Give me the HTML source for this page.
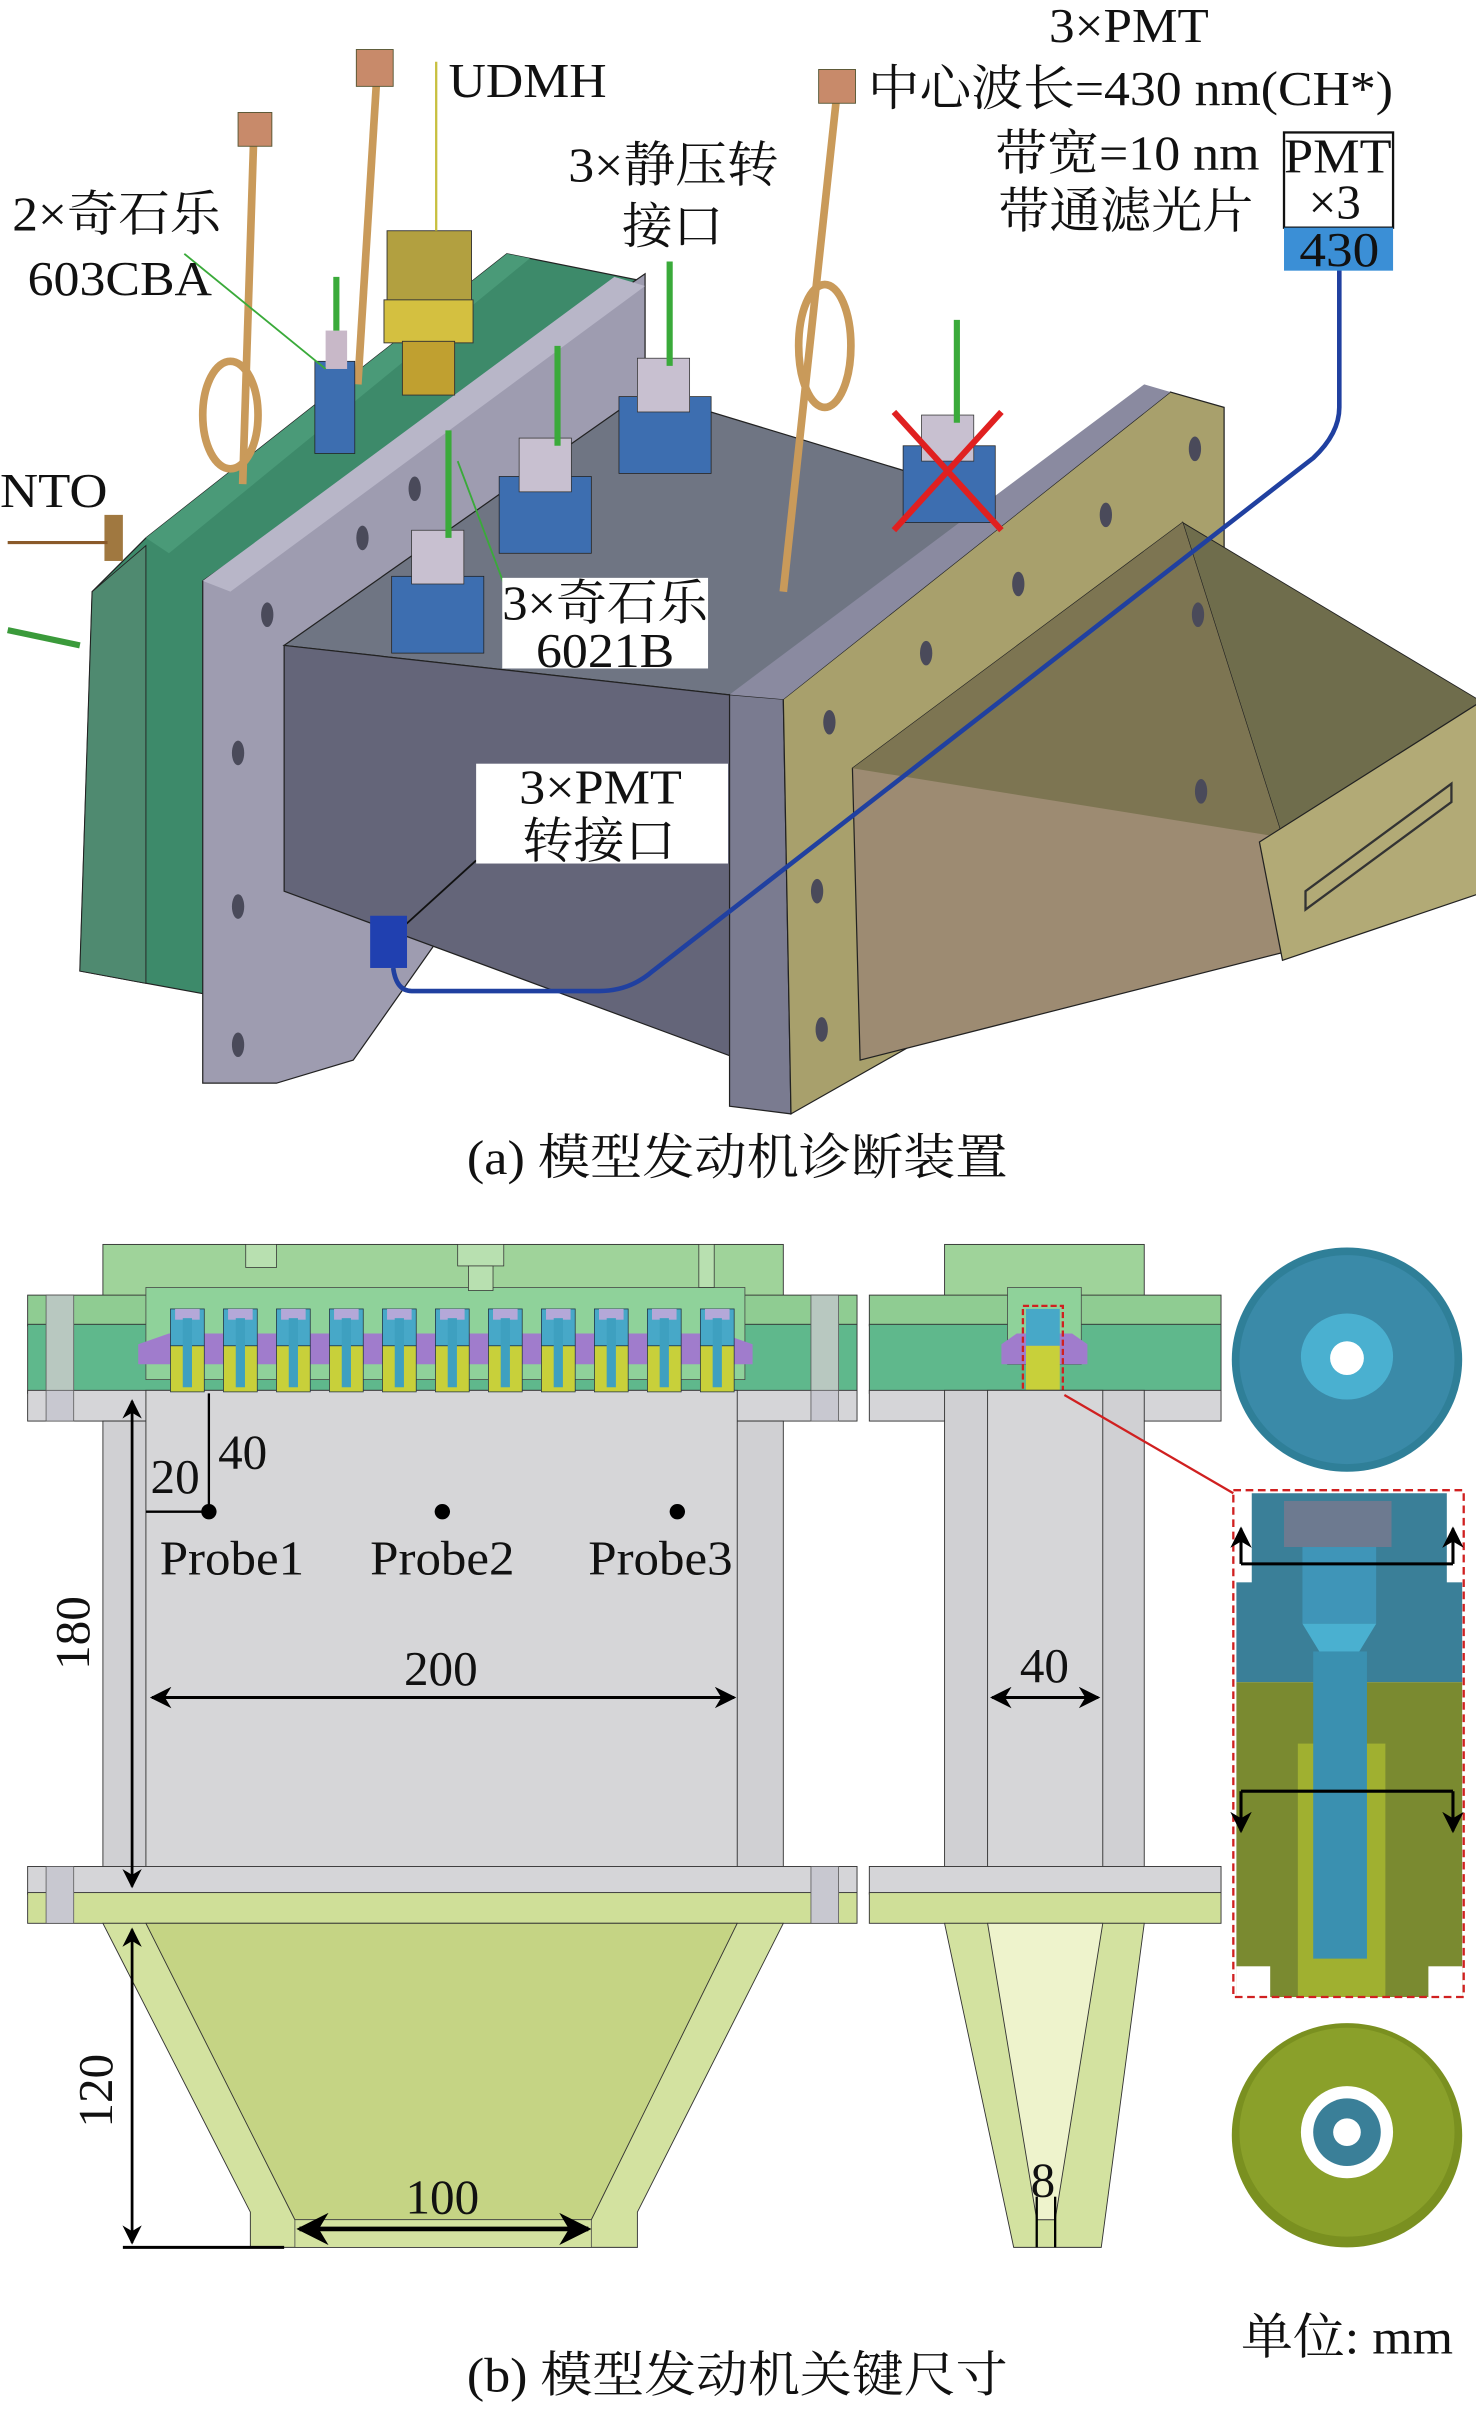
<!DOCTYPE html>
<html><head><meta charset="utf-8"><style>
html,body{margin:0;padding:0;background:#fff;}
svg{display:block;}
text{font-family:"Liberation Serif","Noto Serif CJK SC",serif;fill:#111;}
</style></head><body>
<svg width="1476" height="2409" viewBox="0 0 961 1568" xmlns="http://www.w3.org/2000/svg">
<defs>
<marker id="ah" viewBox="0 0 10 10" refX="9" refY="5" markerWidth="7" markerHeight="7" orient="auto-start-reverse"><path d="M0,0 L10,5 L0,10 L3,5 z" fill="#000"/></marker>
</defs>

<!-- ======== (a) 3D view ======== -->
<polygon points="52,632 60,385 95,350 330,165 415,182 150,372 150,650" fill="#3d8a6a" stroke="#222" stroke-width="0.8"/>
<polygon points="95,350 330,165 345,168 110,360" fill="#4a9a78"/>
<polygon points="52,632 60,385 95,355 95,640" fill="#4f8a70" stroke="#222" stroke-width="0.6"/>
<polygon points="132,705 132,378 420,178 420,420 230,690 180,705" fill="#9e9cb0" stroke="#222" stroke-width="0.8"/>
<polygon points="132,378 400,180 420,186 150,385" fill="#b8b6c8"/>
<polygon points="185,420 420,255 700,340 500,455" fill="#6f7583" stroke="#222" stroke-width="0.8"/>
<polygon points="185,420 500,455 510,700 185,580" fill="#646579" stroke="#222" stroke-width="0.8"/>
<polygon points="475,452 510,455 515,725 475,720" fill="#7a7b90" stroke="#222" stroke-width="0.8"/>
<polygon points="510,455 762,255 797,265 797,565 515,725" fill="#a8a06c" stroke="#222" stroke-width="0.8"/>
<polygon points="475,452 745,250 762,255 510,455" fill="#8a8aa0"/>
<polygon points="770,340 962,455 962,460 835,545" fill="#6f6d4c" stroke="#222" stroke-width="0.6"/>
<polygon points="555,500 770,340 835,545 835,620 560,690" fill="#9d8b72" stroke="#222" stroke-width="0.8"/>
<polygon points="555,500 770,340 835,545" fill="#7d7552"/>
<polygon points="820,548 962,458 962,582 835,625" fill="#b2aa76" stroke="#222" stroke-width="0.8"/>
<polygon points="850,580 945,510 945,522 850,592" fill="none" stroke="#333" stroke-width="1.5"/>
<g fill="#4a4a5a">
<ellipse cx="236" cy="350" rx="4" ry="8"/><ellipse cx="270" cy="318" rx="4" ry="8"/><ellipse cx="174" cy="400" rx="4" ry="8"/><ellipse cx="155" cy="490" rx="4" ry="8"/><ellipse cx="155" cy="590" rx="4" ry="8"/><ellipse cx="155" cy="680" rx="4" ry="8"/>
<ellipse cx="603" cy="425" rx="4" ry="8"/><ellipse cx="663" cy="380" rx="4" ry="8"/><ellipse cx="720" cy="335" rx="4" ry="8"/><ellipse cx="778" cy="292" rx="4" ry="8"/><ellipse cx="540" cy="470" rx="4" ry="8"/><ellipse cx="532" cy="580" rx="4" ry="8"/><ellipse cx="535" cy="670" rx="4" ry="8"/><ellipse cx="780" cy="400" rx="4" ry="8"/><ellipse cx="782" cy="515" rx="4" ry="8"/>
</g>
<rect x="68" y="335" width="12" height="30" fill="#a07840"/>
<line x1="5" y1="353" x2="70" y2="353" stroke="#8a5a2a" stroke-width="2"/>
<line x1="5" y1="410" x2="52" y2="420" stroke="#3a9a3a" stroke-width="4"/>
<g stroke="#c99a5a" stroke-width="5" fill="none">
<line x1="165" y1="95" x2="158" y2="315"/>
<line x1="245" y1="55" x2="233" y2="250"/>
<line x1="545" y1="60" x2="510" y2="385"/>
<ellipse cx="150" cy="270" rx="18" ry="35"/>
<ellipse cx="537" cy="225" rx="17" ry="40"/>
</g>
<g fill="#c88a6a" stroke="#553" stroke-width="0.6">
<rect x="155" y="73" width="22" height="22"/><rect x="232" y="32" width="24" height="24"/><rect x="533" y="45" width="24" height="22"/>
</g>
<rect x="252" y="150" width="55" height="50" fill="#b2a040" stroke="#333" stroke-width="0.6"/>
<rect x="250" y="195" width="58" height="28" fill="#d4c040" stroke="#333" stroke-width="0.6"/>
<rect x="262" y="222" width="34" height="35" fill="#c0a030" stroke="#333" stroke-width="0.6"/>
<line x1="284" y1="40" x2="284" y2="150" stroke="#c8c040" stroke-width="1.5"/>
<g>
<rect x="205" y="235" width="26" height="60" fill="#3d6eb0" stroke="#222" stroke-width="0.5"/>
<rect x="212" y="215" width="14" height="25" fill="#c8b8c8"/>
<line x1="219" y1="180" x2="219" y2="215" stroke="#3aaa3a" stroke-width="4"/>
<rect x="255" y="375" width="60" height="50" fill="#3d6eb0" stroke="#222" stroke-width="0.5"/>
<rect x="268" y="345" width="34" height="35" fill="#c8c0d0" stroke="#333" stroke-width="0.5"/>
<line x1="292" y1="280" x2="292" y2="350" stroke="#3aaa3a" stroke-width="4"/>
<rect x="325" y="310" width="60" height="50" fill="#3d6eb0" stroke="#222" stroke-width="0.5"/>
<rect x="338" y="285" width="34" height="35" fill="#c8c0d0" stroke="#333" stroke-width="0.5"/>
<line x1="363" y1="225" x2="363" y2="290" stroke="#3aaa3a" stroke-width="4"/>
<rect x="403" y="258" width="60" height="50" fill="#3d6eb0" stroke="#222" stroke-width="0.5"/>
<rect x="415" y="233" width="34" height="35" fill="#c8c0d0" stroke="#333" stroke-width="0.5"/>
<line x1="436" y1="170" x2="436" y2="238" stroke="#3aaa3a" stroke-width="4"/>
<rect x="588" y="290" width="60" height="50" fill="#3d6eb0" stroke="#222" stroke-width="0.5"/>
<rect x="600" y="270" width="34" height="30" fill="#c8c0d0" stroke="#333" stroke-width="0.5"/>
<line x1="623" y1="208" x2="623" y2="275" stroke="#3aaa3a" stroke-width="4"/>
</g>
<line x1="582" y1="268" x2="652" y2="345" stroke="#e02020" stroke-width="4"/>
<line x1="652" y1="268" x2="582" y2="345" stroke="#e02020" stroke-width="4"/>
<line x1="120" y1="165" x2="212" y2="240" stroke="#3aaa3a" stroke-width="1.2"/>
<line x1="298" y1="300" x2="330" y2="385" stroke="#3aaa3a" stroke-width="1.2"/>
<line x1="310" y1="560" x2="255" y2="610" stroke="#111" stroke-width="1.2"/>
<path d="M872,175 L872,265 Q872,282 855,298 L425,632 Q410,645 390,645 L268,645 Q258,645 256,630" fill="none" stroke="#2040a0" stroke-width="3"/>
<rect x="241" y="596" width="24" height="34" fill="#2040b0"/>
<rect x="327" y="376" width="134" height="59" fill="#fff"/>
<rect x="310" y="497" width="164" height="65" fill="#fff"/>
<rect x="836" y="86" width="71" height="62" fill="#fff" stroke="#111" stroke-width="1.5"/>
<rect x="836" y="148" width="71" height="28" fill="#3b8fd6"/>
<g font-size="32">
<text x="292" y="63" textLength="103" lengthAdjust="spacingAndGlyphs">UDMH</text>
<text x="8" y="150" textLength="136" lengthAdjust="spacingAndGlyphs">2×奇石乐</text>
<text x="18" y="192" textLength="120" lengthAdjust="spacingAndGlyphs">603CBA</text>
<text x="0" y="330" textLength="70" lengthAdjust="spacingAndGlyphs">NTO</text>
<text x="370" y="118" textLength="137" lengthAdjust="spacingAndGlyphs">3×静压转</text>
<text x="405" y="158" textLength="66" lengthAdjust="spacingAndGlyphs">接口</text>
<text x="683" y="27" textLength="104" lengthAdjust="spacingAndGlyphs">3×PMT</text>
<text x="565" y="68" textLength="342" lengthAdjust="spacingAndGlyphs">中心波长=430 nm(CH*)</text>
<text x="648" y="110" textLength="172" lengthAdjust="spacingAndGlyphs">带宽=10 nm</text>
<text x="650" y="148" textLength="166" lengthAdjust="spacingAndGlyphs">带通滤光片</text>
<text x="836" y="112" textLength="70" lengthAdjust="spacingAndGlyphs">PMT</text>
<text x="852" y="142">×3</text>
<text x="846" y="173" textLength="52" lengthAdjust="spacingAndGlyphs">430</text>
<text x="327" y="403" textLength="134" lengthAdjust="spacingAndGlyphs">3×奇石乐</text>
<text x="349" y="434" textLength="90" lengthAdjust="spacingAndGlyphs">6021B</text>
<text x="338" y="523" textLength="106" lengthAdjust="spacingAndGlyphs">3×PMT</text>
<text x="340" y="558" textLength="100" lengthAdjust="spacingAndGlyphs">转接口</text>
<text x="304" y="764" textLength="352" lengthAdjust="spacingAndGlyphs">(a) 模型发动机诊断装置</text>
</g>

<!-- ======== (b) section views ======== -->
<rect x="67" y="810" width="443" height="36" fill="#9fd39a" stroke="#333" stroke-width="0.6"/>
<rect x="18" y="843" width="540" height="20" fill="#8fcc92" stroke="#333" stroke-width="0.6"/>
<rect x="18" y="862" width="540" height="45" fill="#5fb88c" stroke="#333" stroke-width="0.6"/>
<rect x="95" y="838" width="390" height="60" fill="#8fd29a" stroke="#444" stroke-width="0.5"/>
<rect x="18" y="905" width="540" height="20" fill="#d5d5d8" stroke="#333" stroke-width="0.6"/>
<rect x="67" y="925" width="443" height="292" fill="#d0d0d3" stroke="#333" stroke-width="0.6"/>
<rect x="95" y="905" width="385" height="328" fill="#d6d6d8" stroke="#333" stroke-width="0.6"/>
<rect x="18" y="1215" width="540" height="18" fill="#d5d5d8" stroke="#333" stroke-width="0.6"/>
<rect x="18" y="1232" width="540" height="20" fill="#cfdf98" stroke="#333" stroke-width="0.6"/>
<polygon points="67,1252 510,1252 415,1440 415,1463 163,1463 163,1440" fill="#d3e2a0" stroke="#333" stroke-width="0.6"/>
<polygon points="95,1252 480,1252 385,1445 192,1445" fill="#c5d484" stroke="#333" stroke-width="0.6"/>
<rect x="192" y="1445" width="193" height="18" fill="#d3e2a0" stroke="#444" stroke-width="0.5"/>
<g fill="#b8c8c0" stroke="#555" stroke-width="0.5">
<rect x="30" y="843" width="18" height="62"/><rect x="528" y="843" width="18" height="62"/>
</g>
<g fill="#c8c8d0" stroke="#555" stroke-width="0.5">
<rect x="30" y="905" width="18" height="20"/><rect x="528" y="905" width="18" height="20"/>
<rect x="30" y="1215" width="18" height="37"/><rect x="528" y="1215" width="18" height="37"/>
</g>
<rect x="160" y="810" width="20" height="15" fill="#b8e0b0" stroke="#333" stroke-width="0.5"/>
<rect x="298" y="810" width="30" height="14" fill="#b8e0b0" stroke="#333" stroke-width="0.5"/>
<rect x="305" y="824" width="16" height="16" fill="#b8e0b0" stroke="#333" stroke-width="0.5"/>
<rect x="455" y="810" width="10" height="28" fill="#b8e0b0" stroke="#333" stroke-width="0.5"/>
<polygon points="90,875 110,868 470,868 490,875 490,888 90,888" fill="#a07ccc"/>
<g id="inj">
<rect x="111" y="852" width="22" height="24" fill="#47a8c8" stroke="#234" stroke-width="0.5"/>
<rect x="114" y="852" width="16" height="7" fill="#b4a8d8"/>
<rect x="111" y="876" width="22" height="30" fill="#c8d03a" stroke="#234" stroke-width="0.5"/>
<rect x="119" y="858" width="6" height="45" fill="#3ea0c0"/>
</g>
<use href="#inj" x="34.5"/><use href="#inj" x="69"/><use href="#inj" x="103.5"/><use href="#inj" x="138"/><use href="#inj" x="172.5"/><use href="#inj" x="207"/><use href="#inj" x="241.5"/><use href="#inj" x="276"/><use href="#inj" x="310.5"/><use href="#inj" x="345"/>

<line x1="86" y1="912" x2="86" y2="1228" stroke="#000" stroke-width="1.8" marker-start="url(#ah)" marker-end="url(#ah)"/>
<line x1="86" y1="1256" x2="86" y2="1460" stroke="#000" stroke-width="1.8" marker-start="url(#ah)" marker-end="url(#ah)"/>
<line x1="80" y1="1463" x2="185" y2="1463" stroke="#000" stroke-width="2"/>
<line x1="99" y1="1105" x2="478" y2="1105" stroke="#000" stroke-width="2" marker-start="url(#ah)" marker-end="url(#ah)"/>
<line x1="195" y1="1451" x2="383" y2="1451" stroke="#000" stroke-width="3" marker-start="url(#ah)" marker-end="url(#ah)"/>
<polyline points="136,907 136,984 95,984" fill="none" stroke="#000" stroke-width="1.5"/>
<circle cx="136" cy="984" r="5" fill="#000"/><circle cx="288" cy="984" r="5" fill="#000"/><circle cx="441" cy="984" r="5" fill="#000"/>
<g font-size="32">
<text x="98" y="972">20</text>
<text x="142" y="956">40</text>
<text x="104" y="1025" textLength="94" lengthAdjust="spacingAndGlyphs">Probe1</text>
<text x="241" y="1025" textLength="94" lengthAdjust="spacingAndGlyphs">Probe2</text>
<text x="383" y="1025" textLength="94" lengthAdjust="spacingAndGlyphs">Probe3</text>
<text x="263" y="1097">200</text>
<text x="264" y="1441">100</text>
<text transform="translate(58,1087) rotate(-90)">180</text>
<text transform="translate(73,1385) rotate(-90)">120</text>
</g>

<rect x="615" y="810" width="130" height="36" fill="#9fd39a" stroke="#333" stroke-width="0.6"/>
<rect x="566" y="843" width="229" height="20" fill="#8fcc92" stroke="#333" stroke-width="0.6"/>
<rect x="566" y="862" width="229" height="45" fill="#5fb88c" stroke="#333" stroke-width="0.6"/>
<rect x="656" y="838" width="48" height="50" fill="#8fd29a" stroke="#444" stroke-width="0.5"/>
<polygon points="652,875 662,868 698,868 708,875 708,888 652,888" fill="#a07ccc"/>
<rect x="668" y="852" width="22" height="24" fill="#47a8c8"/>
<rect x="668" y="876" width="22" height="30" fill="#c8d03a"/>
<rect x="666" y="850" width="26" height="58" fill="none" stroke="#d02020" stroke-width="1.5" stroke-dasharray="4,2"/>
<rect x="566" y="905" width="229" height="20" fill="#d5d5d8" stroke="#333" stroke-width="0.6"/>
<rect x="615" y="905" width="130" height="312" fill="#d0d0d3" stroke="#333" stroke-width="0.6"/>
<rect x="643" y="905" width="75" height="328" fill="#d6d6d8" stroke="#333" stroke-width="0.6"/>
<rect x="566" y="1215" width="229" height="18" fill="#d5d5d8" stroke="#333" stroke-width="0.6"/>
<rect x="566" y="1232" width="229" height="20" fill="#cfdf98" stroke="#333" stroke-width="0.6"/>
<polygon points="615,1252 745,1252 717,1463 660,1463" fill="#d3e2a0" stroke="#333" stroke-width="0.6"/>
<polygon points="643,1252 718,1252 687,1445 675,1445" fill="#eef3cc" stroke="#333" stroke-width="0.6"/>
<line x1="675" y1="1430" x2="675" y2="1463" stroke="#000" stroke-width="1.5"/>
<line x1="687" y1="1430" x2="687" y2="1463" stroke="#000" stroke-width="1.5"/>
<line x1="646" y1="1105" x2="715" y2="1105" stroke="#000" stroke-width="2" marker-start="url(#ah)" marker-end="url(#ah)"/>
<g font-size="32"><text x="664" y="1095">40</text><text x="671" y="1430">8</text></g>
<line x1="693" y1="908" x2="803" y2="972" stroke="#d02020" stroke-width="1.5"/>

<ellipse cx="877" cy="885" rx="75" ry="73" fill="#2f7f98"/>
<ellipse cx="877" cy="885" rx="70" ry="68" fill="#3a8aa8"/>
<ellipse cx="877" cy="883" rx="30" ry="28" fill="#4ab0d0"/>
<circle cx="877" cy="884" r="11" fill="#fff"/>
<rect x="815" y="972" width="127" height="60" fill="#3a7f98"/>
<rect x="805" y="1030" width="147" height="65" fill="#3a7f98"/>
<rect x="836" y="977" width="70" height="30" fill="#6d7a90"/>
<rect x="848" y="1007" width="48" height="50" fill="#3f95b8"/>
<polygon points="848,1057 896,1057 885,1075 859,1075" fill="#4ab0d0"/>
<rect x="805" y="1095" width="147" height="205" fill="#7a8a30"/>
<rect x="845" y="1135" width="57" height="165" fill="#a0b030"/>
<rect x="855" y="1075" width="35" height="200" fill="#3a90b0"/>
<rect x="805" y="1280" width="22" height="20" fill="#fff"/><rect x="930" y="1280" width="22" height="20" fill="#fff"/>
<rect x="803" y="970" width="150" height="330" fill="none" stroke="#d02020" stroke-width="1.5" stroke-dasharray="5,3"/>
<line x1="808" y1="1018" x2="946" y2="1018" stroke="#000" stroke-width="2"/>
<line x1="808" y1="1018" x2="808" y2="995" stroke="#000" stroke-width="2" marker-end="url(#ah)"/>
<line x1="946" y1="1018" x2="946" y2="995" stroke="#000" stroke-width="2" marker-end="url(#ah)"/>
<line x1="808" y1="1166" x2="946" y2="1166" stroke="#000" stroke-width="2"/>
<line x1="808" y1="1166" x2="808" y2="1192" stroke="#000" stroke-width="2" marker-end="url(#ah)"/>
<line x1="946" y1="1166" x2="946" y2="1192" stroke="#000" stroke-width="2" marker-end="url(#ah)"/>
<ellipse cx="877" cy="1390" rx="75" ry="73" fill="#7a9020"/>
<ellipse cx="877" cy="1388" rx="70" ry="68" fill="#8aa02a"/>
<circle cx="877" cy="1388" r="30" fill="#fff"/>
<circle cx="877" cy="1388" r="22" fill="#3a7f98"/>
<circle cx="877" cy="1388" r="9" fill="#fff"/>

<g font-size="32">
<text x="808" y="1532" textLength="138" lengthAdjust="spacingAndGlyphs">单位: mm</text>
<text x="304" y="1557" textLength="352" lengthAdjust="spacingAndGlyphs">(b) 模型发动机关键尺寸</text>
</g>
</svg>
</body></html>
